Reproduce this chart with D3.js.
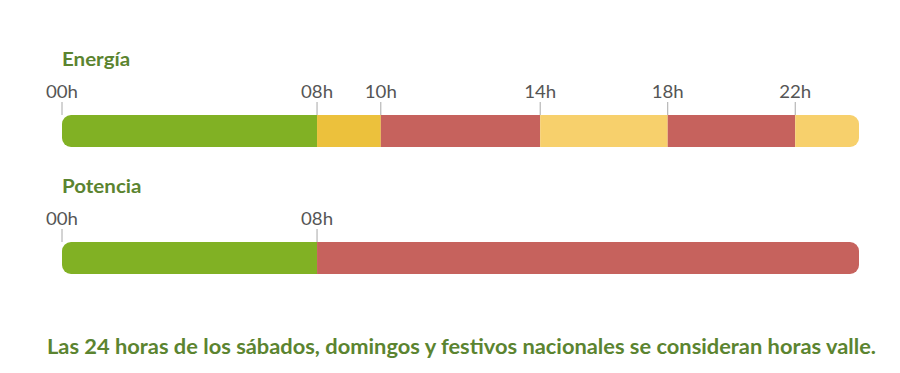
<!DOCTYPE html>
<html><head><meta charset="utf-8">
<script src="https://cdn.jsdelivr.net/npm/d3@7"></script>
<style>body{margin:0;background:#fff;} svg{display:block;font-family:Lato,'Open Sans',sans-serif;}</style>
</head><body>
<script>
// Data
const rows = ["Energía", "Potencia"];
const energiaStart = [0, 8, 10, 14, 18, 22];
const energiaEnd   = [8, 10, 14, 18, 22, 24];
const energiaTipo  = ["valle", "llano1", "punta", "llano", "punta", "llano"];
const potenciaStart = [0, 8];
const potenciaEnd   = [8, 24];
const potenciaTipo  = ["valle", "punta"];
const energiaTicks  = ["00h", "08h", "10h", "14h", "18h", "22h"];
const potenciaTicks = ["00h", "08h"];
const footnote = "Las 24 horas de los sábados, domingos y festivos nacionales se consideran horas valle.";

const colors = {valle: "#81b124", llano1: "#ecc13c", punta: "#c6625d", llano: "#f7d06c"};

const W = 900, H = 373;
const x0 = 62, x1 = 859;
// The original gives the 10h–14h span extra width (1.25x per hour)
const units = 20 + 4 * 1.25;
const u = (x1 - x0) / units;
const x = d3.scaleLinear()
  .domain([0, 10, 14, 24])
  .range([x0, x0 + 10 * u, x0 + 15 * u, x1]);

const svg = d3.select("body").append("svg").attr("width", W).attr("height", H);

function stretch(sel, f) {
  sel.each(function () {
    const L = this.getComputedTextLength();
    d3.select(this).attr("textLength", L * f).attr("lengthAdjust", "spacingAndGlyphs");
  });
}

const layout = [
  {title: rows[0], start: energiaStart, end: energiaEnd, tipo: energiaTipo, ticks: energiaTicks, titleY: 66, labelY: 98, barY: 115},
  {title: rows[1], start: potenciaStart, end: potenciaEnd, tipo: potenciaTipo, ticks: potenciaTicks, titleY: 192.5, labelY: 225, barY: 242}
];
const barH = 32;

layout.forEach((r, i) => {
  const g = svg.append("g");
  const t = g.append("text").attr("x", x0).attr("y", r.titleY)
    .attr("font-size", 19).attr("font-weight", 700).attr("fill", "#5b8430").text(r.title);
  stretch(t, 1.08);

  const cid = "clip" + i;
  svg.append("clipPath").attr("id", cid).append("rect")
    .attr("x", x0).attr("y", r.barY).attr("width", x1 - x0).attr("height", barH).attr("rx", 9);

  const segs = r.start.map((s, k) => ({s, e: r.end[k], t: r.tipo[k]}));
  g.append("g").attr("clip-path", `url(#${cid})`).selectAll("rect").data(segs).join("rect")
    .attr("x", d => x(d.s)).attr("y", r.barY)
    .attr("width", d => x(d.e) - x(d.s)).attr("height", barH)
    .attr("fill", d => colors[d.t]);

  const tickVals = r.ticks.map(t => +t.replace("h", ""));
  const tg = g.selectAll(".tk").data(tickVals).join("g");
  tg.append("line").attr("x1", d => x(d)).attr("x2", d => x(d))
    .attr("y1", r.barY - 13).attr("y2", r.barY)
    .attr("stroke", "#a8a8a8").attr("stroke-width", 1);
  const lbl = tg.append("text").attr("x", d => x(d)).attr("y", r.labelY)
    .attr("text-anchor", "middle").attr("font-size", 16.5).attr("fill", "#555")
    .text((d, k) => r.ticks[k]);
  stretch(lbl, 1.13);
});

svg.append("text").attr("x", 47).attr("y", 353.5)
  .attr("font-size", 21).attr("font-weight", 700).attr("fill", "#5b8430")
  .attr("textLength", 829).attr("lengthAdjust", "spacingAndGlyphs")
  .text(footnote);
</script>
</body></html>
